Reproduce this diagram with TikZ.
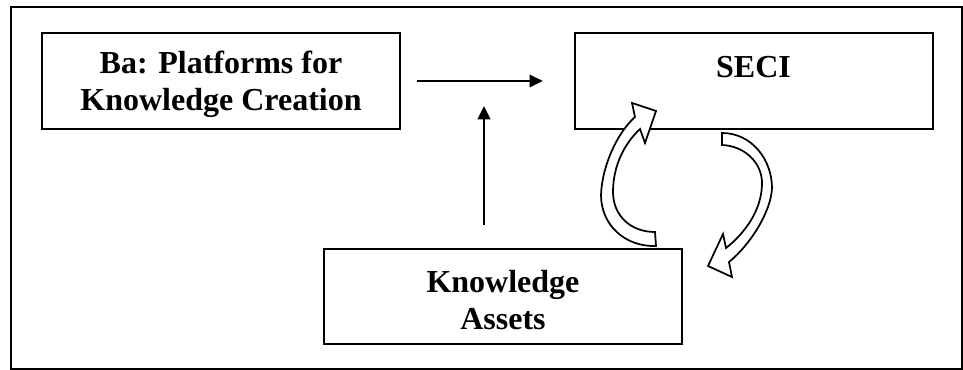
\documentclass[tikz,border=0pt]{standalone}
\usepackage{fontspec}
\setmainfont{Liberation Serif}
\usepackage{tikz}
\usetikzlibrary{arrows.meta}

% line box of the first row, as tall as the font's ascent
\newcommand{\topline}{\rule{0pt}{22pt}}

\begin{document}
\begin{tikzpicture}[->, >={Triangle[length=10pt, width=9.5pt]}, x=0.75pt, y=-0.75pt, line width=1.5pt, main/.style = {draw, rectangle, minimum width=268.5pt, minimum height=72pt, inner sep=0pt, align=center, font=\bfseries\fontsize{24}{27.6}\selectfont}, turn/.style={-, draw, fill=white, line width=1.3pt, line join=miter}]

\useasboundingbox (0,0) rectangle (963,370);
\draw[-] (11,7) rectangle (962,369);

\node[main] (1) at (221,81) {\topline Ba: Platforms for\\Knowledge Creation};
\node[main] (2) at (753.5,81) {\topline SECI\\\mbox{}};
\node[main, minimum height=71.25pt] (3) at (503,296.5) {\topline Knowledge\\Assets};
\coordinate (u) at (484,106);

\path 
    (1) edge[shorten <=12pt, shorten >=23pt] (2)
    (3.north -| u) edge[shorten <=17pt] (u);

% hollow curved arrows between SECI and the assets
\draw[turn] (656,246) .. controls (625,247) and (601,225) .. (601,195) .. controls (602,165) and (618,132) .. (635,117) -- (632,103) -- (656,111) -- (645,143) -- (640,129) .. controls (625,143) and (613,165) .. (613,192) .. controls (613,215) and (630,232) .. (655,232) -- cycle;
\draw[turn] (722,133) .. controls (752,133) and (772,160) .. (772,188) .. controls (771,212) and (750,245) .. (729,262) -- (732,277) -- (708,266) -- (723,234) -- (726,248) .. controls (745,233) and (762,210) .. (762,183) .. controls (762,163) and (745,146) .. (722,145) -- cycle;
\end{tikzpicture}
\end{document}
